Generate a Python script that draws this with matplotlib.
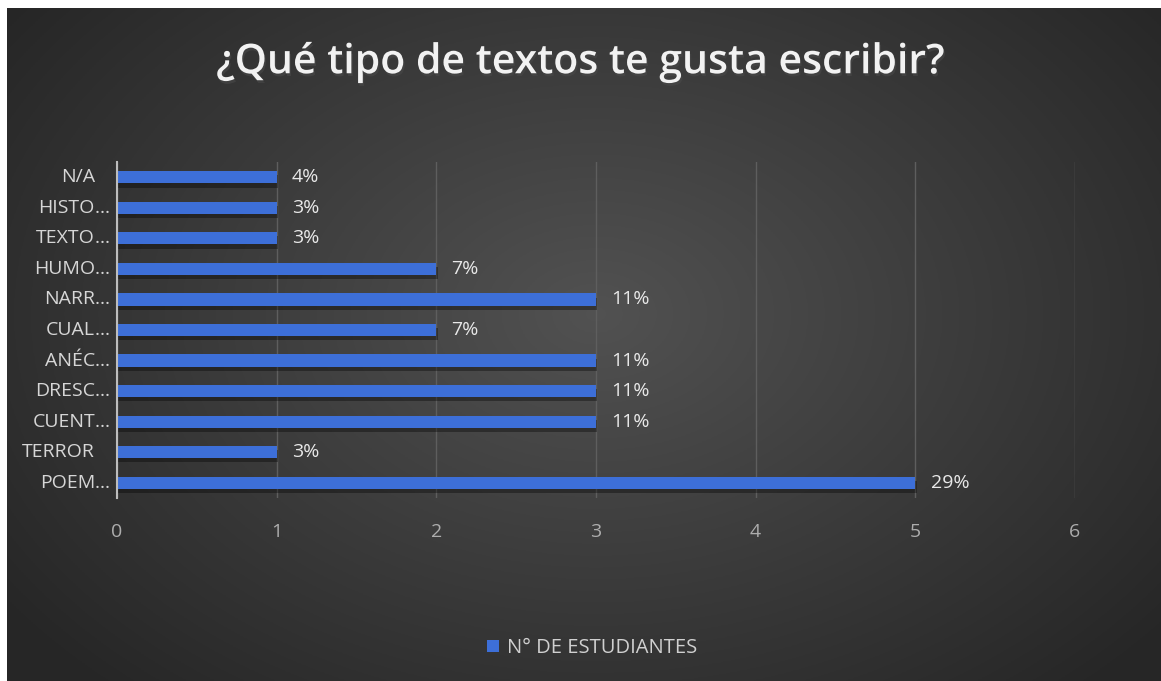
import numpy as np
import matplotlib
matplotlib.use("Agg")
import matplotlib.pyplot as plt
import matplotlib.patheffects as pe
from matplotlib.transforms import offset_copy

# data, bottom to top as drawn
categories = ["POEM…", "TERROR", "CUENT…", "DRESC…", "ANÉC…", "CUAL…",
              "NARR…", "HUMO…", "TEXTO…", "HISTO…", "N/A"]
students = [5, 1, 3, 3, 3, 2, 3, 2, 1, 1, 1]
percents = ["29%", "3%", "11%", "11%", "11%", "7%", "11%", "7%", "3%", "3%", "4%"]
x_ticks = [0, 1, 2, 3, 4, 5, 6]

title = "¿Qué tipo de textos te gusta escribir?"
series_name = "N° DE ESTUDIANTES"

W, H = 1161, 681
fig = plt.figure(figsize=(W / 100, H / 100), dpi=100)
fig.patch.set_facecolor("white")

# radial gradient background (white strip left and top)
bg = fig.add_axes([7 / W, -0.01, 1.02 - 7 / W, 1.01 - 8 / H])
bg.set_axis_off()
yy, xx = np.mgrid[0:1:300j, 0:1:500j]
r = np.sqrt(((xx - 0.5) / 0.62) ** 2 + ((yy - 0.45) / 0.75) ** 2)
shade = np.clip(0.32 - 0.17 * r, 0.15, 0.32)
bg.imshow(np.dstack([shade] * 3), extent=[0, 1, 0, 1], aspect="auto", origin="upper")
bg.set_xlim(0, 1)
bg.set_ylim(0, 1)

ax = fig.add_axes([117 / W, 1 - 498 / H, (1075 - 117) / W, (498 - 162) / H])
ax.patch.set_alpha(0)
y = np.arange(len(categories))
bars = ax.barh(y, students, height=0.4, color="#3d6fd8", zorder=3)
for b in bars:
    b.set_path_effects([pe.SimplePatchShadow(offset=(1, -3), shadow_rgbFace="black", alpha=0.35),
                        pe.Normal()])

for yi, v, p in zip(y, students, percents):
    ax.text(v + 0.095, yi, p, va="center", ha="left", color="#e8e8e8",
            fontsize=14, family="Open Sans")

# category labels: base text right aligned, ellipsis overflowing to the right
base = ax.get_yaxis_transform()
for yi, c in zip(y, categories):
    stem = c.rstrip("…")
    tr = offset_copy(base, fig=fig, x=-22, y=0, units="dots")
    ax.text(0, yi, stem, transform=tr, ha="right", va="center", color="#d6d6d6",
            fontsize=14, family="Open Sans")
    if c.endswith("…"):
        ax.text(0, yi, "…", transform=tr, ha="left", va="center", color="#d6d6d6",
                fontsize=14, family="Open Sans")

ax.set_xlim(0, 6)
ax.set_ylim(-0.5, len(categories) - 0.5)
ax.set_xticks(x_ticks)
ax.set_yticks([])
ax.grid(axis="x", color="#5e5e5e", linewidth=1, zorder=0)
for s in ["top", "right", "bottom"]:
    ax.spines[s].set_visible(False)
ax.spines["left"].set_color("#bdbdbd")
ax.spines["left"].set_linewidth(1.5)
ax.spines["left"].set_zorder(4)
ax.tick_params(axis="x", length=0, colors="#adadad", labelsize=14, pad=18)
for lab in ax.get_xticklabels():
    lab.set_family("Open Sans")

fig.text(0.5, 1 - 62 / H, title, ha="center", va="center", color="#f2f2f2",
         fontsize=29.5, family="Open Sans", fontweight="semibold",
         path_effects=[pe.withSimplePatchShadow(offset=(1, -2), alpha=0.6)])

leg = ax.legend([bars[0]], [series_name], loc="center", bbox_to_anchor=(592 / W, 1 - 648 / H),
                bbox_transform=fig.transFigure, frameon=False, handlelength=0.6,
                handleheight=0.6, handletextpad=0.4, prop={"family": "Open Sans", "size": 14.5})
for t in leg.get_texts():
    t.set_color("#d0d0d0")
leg.legend_handles[0].set_path_effects([])

fig.savefig("out.png", dpi=100)
